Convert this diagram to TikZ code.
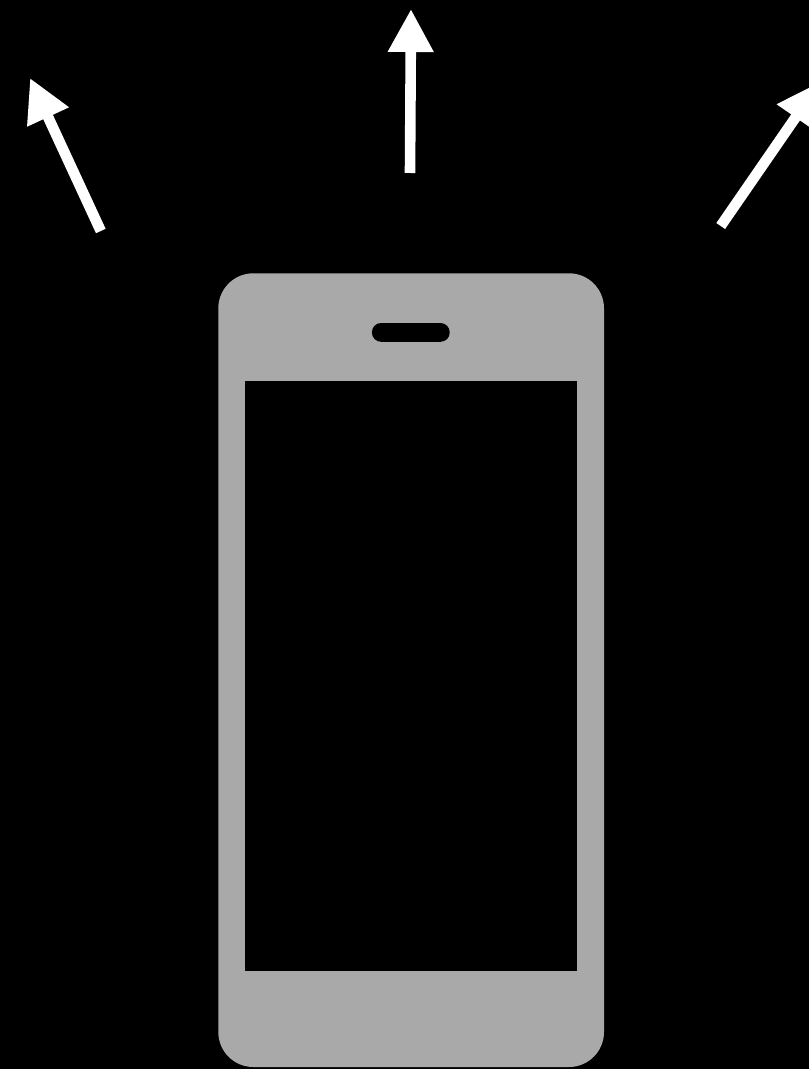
\documentclass[tikz,border=0pt]{standalone}
\usetikzlibrary{arrows.meta}
\definecolor{phonegray}{HTML}{A9A9A9}
\tikzset{
	ray/.style={draw=white,line width=5.3pt,-{Triangle[length=21.5pt,width=21.5pt]}},
	every node/.style={inner sep=0pt,outer sep=0pt}
}
\begin{document}
\begin{tikzpicture}[x=0.5pt,y=-0.5pt]
	\useasboundingbox (0,0) rectangle (809,1069);
	\clip (0,0) rectangle (809,1069);
	\fill[black] (0,0) rectangle (809,1069);
	% phone
	\fill[phonegray,rounded corners=17.5pt] (218.3,273.3) rectangle (604,1067);
	\node[fill=black,minimum width=166pt,minimum height=295pt] (screen) at (411,676) {};
	\node[fill=black,rounded corners=4.6pt,minimum width=38.9pt,minimum height=9.4pt] (speaker) at (410.8,332.4) {};
	% rays
	\coordinate (leftfoot) at (100.8,231);
	\coordinate (lefttip) at (30,78);
	\coordinate (midfoot) at (410,173);
	\coordinate (midtip) at (411,9);
	\coordinate (rightfoot) at (720.7,226);
	\coordinate (righttip) at (820,82);
	\draw[ray] (leftfoot) -- (lefttip);
	\draw[ray] (midfoot) -- (midtip);
	\draw[ray] (rightfoot) -- (righttip);
\end{tikzpicture}
\end{document}
